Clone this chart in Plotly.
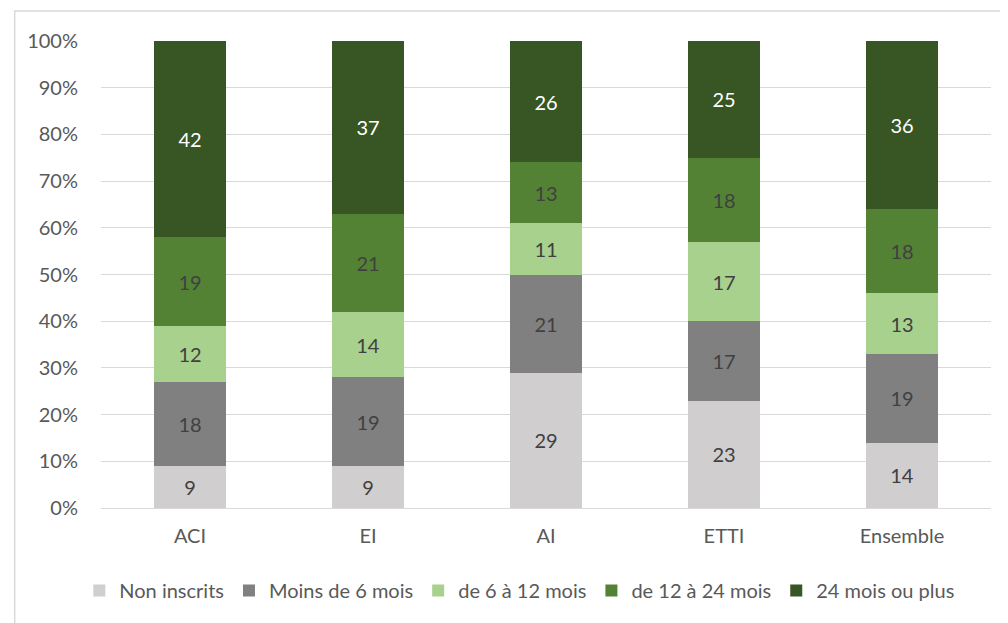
import plotly.graph_objects as go

categories = ["ACI", "EI", "AI", "ETTI", "Ensemble"]
series_names = ["Non inscrits", "Moins de 6 mois", "de 6 à 12 mois", "de 12 à 24 mois", "24 mois ou plus"]
non_inscrits = [9, 9, 29, 23, 14]
moins_6 = [18, 19, 21, 17, 19]
de_6_12 = [12, 14, 11, 17, 13]
de_12_24 = [19, 21, 13, 18, 18]
plus_24 = [42, 37, 26, 25, 36]
y_ticks = [0, 10, 20, 30, 40, 50, 60, 70, 80, 90, 100]

colors = ["#D0CECE", "#808080", "#A9D18E", "#548235", "#375623"]
text_colors = ["#404040", "#404040", "#404040", "#404040", "#FFFFFF"]
all_series = [non_inscrits, moins_6, de_6_12, de_12_24, plus_24]

FONT = "Lato, Open Sans, sans-serif"

fig = go.Figure()
for name, vals, c, tc in zip(series_names, all_series, colors, text_colors):
    fig.add_trace(go.Bar(
        x=categories, y=vals, name=name,
        marker=dict(color=c, line=dict(width=0)),
        text=[str(v) for v in vals], textposition="inside",
        insidetextanchor="middle",
        textfont=dict(color=tc, size=20, family=FONT),
        constraintext="none",
    ))

fig.update_layout(
    barmode="stack", bargap=0.6,
    width=1008, height=623,
    margin=dict(l=93, r=25, t=33, b=123),
    paper_bgcolor="white", plot_bgcolor="white",
    font=dict(family=FONT, size=20, color="#595959"),
    showlegend=True,
    legend=dict(orientation="h", x=0.47, xanchor="center", y=-0.135, yanchor="top",
                font=dict(size=20, color="#595959"), traceorder="normal",
                itemwidth=30, itemsizing="constant", tracegroupgap=0),
    xaxis=dict(showline=True, linecolor="#D9D9D9", linewidth=1, ticks="",
               tickfont=dict(size=20, color="#595959"), ticklabelstandoff=10),
    yaxis=dict(range=[0, 100], tickvals=y_ticks, ticktext=[f"{v}%" for v in y_ticks],
               showgrid=True, gridcolor="#D9D9D9", gridwidth=1, zeroline=False,
               tickfont=dict(size=20, color="#595959"), ticklabelstandoff=22),
    uniformtext=dict(mode=False),
)
fig.add_shape(type="rect", xref="paper", yref="paper",
              x0=-0.097, x1=1.2, y0=-0.3, y1=1.064,
              line=dict(color="#D9D9D9", width=1.5), layer="below")

fig.write_html("out.html")
